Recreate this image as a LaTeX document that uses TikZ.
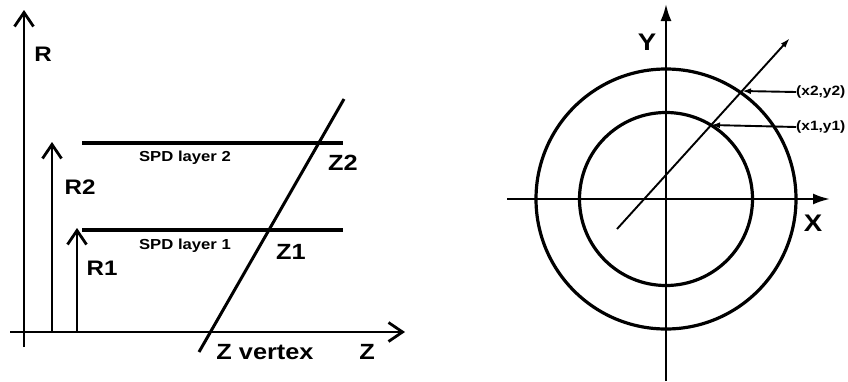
\documentclass[tikz,border=0pt]{standalone}
\usepackage{fontspec}
\setmainfont{Liberation Sans}[FakeStretch=1.15]
\usetikzlibrary{arrows.meta}
\tikzset{
  vax/.style={line width=2.8pt,-{Straight Barb[length=14pt,width=19pt]}},
  lyr/.style={line width=3.2pt},
  trk/.style={line width=3pt},
  xax/.style={line width=2.3pt,-{Latex[length=17pt,width=11pt]}},
  ring/.style={line width=3.2pt},
  ray/.style={line width=1.9pt,-{Latex[length=10pt,width=6pt]}},
  ptr/.style={line width=1.9pt,-{Latex[length=9pt,width=6pt]}},
  big/.style={font=\fontsize{21}{24}\selectfont\bfseries,inner sep=0pt},
  sml/.style={font=\fontsize{14.5}{16}\selectfont\bfseries,inner sep=0pt},
  ptlbl/.style={font=\fontsize{13.5}{15}\selectfont\bfseries,inner sep=0pt,anchor=west},
}
\begin{document}
\begin{tikzpicture}[x=1pt,y=-1pt]
  \useasboundingbox (0,0) rectangle (848,381);
  % R-Z view
  \coordinate (r0) at (24,347);  \coordinate (r1) at (24,10);
  \coordinate (z0) at (10,332);  \coordinate (z1) at (405,332);
  \coordinate (h2a) at (52,332); \coordinate (h2b) at (52,142);
  \coordinate (h1a) at (77,332); \coordinate (h1b) at (77,228);
  \coordinate (s2a) at (82,143); \coordinate (s2b) at (343,143);
  \coordinate (s1a) at (82,230); \coordinate (s1b) at (343,230);
  \coordinate (t0) at (199,352); \coordinate (t1) at (344,99);
  \draw[vax] (r0) -- (r1);
  \draw[vax] (z0) -- (z1);
  \draw[vax] (h2a) -- (h2b);
  \draw[vax] (h1a) -- (h1b);
  \draw[lyr] (s2a) -- (s2b);
  \draw[lyr] (s1a) -- (s1b);
  \draw[trk] (t0) -- (t1);
  \node[big] (rlab) at (43,54) {R};
  \node[big] (r2lab) at (80,187) {R2};
  \node[big] (r1lab) at (102,268) {R1};
  \node[sml] (spd2) at (185,158) {SPD layer 2};
  \node[sml] (spd1) at (185,246) {SPD layer 1};
  \node[big,font=\fontsize{22}{24}\selectfont\bfseries] (z2lab) at (343,163) {Z2};
  \node[big,font=\fontsize{22}{24}\selectfont\bfseries] (z1lab) at (291,252) {Z1};
  \node[big,font=\fontsize{22}{24}\selectfont\bfseries] (zvtx) at (265,352) {Z vertex};
  \node[big,font=\fontsize{22}{24}\selectfont\bfseries] (zlab) at (367,352) {Z};
  % X-Y view
  \coordinate (o) at (666,199);
  \coordinate (y0) at (666,381); \coordinate (y1) at (666,4);
  \coordinate (x0) at (507,199); \coordinate (x1) at (830,199);
  \coordinate (q0) at (617,229); \coordinate (q1) at (790,38);
  \coordinate (p1) at (711,125); \coordinate (p2) at (742,91);
  \draw[xax] (y0) -- (y1);
  \draw[xax] (x0) -- (x1);
  \draw[ring] (o) circle[radius=130pt];
  \draw[ring] (o) circle[radius=86.5pt];
  \draw[ray] (q0) -- (q1);
  \node[big,font=\fontsize{24}{26}\selectfont\bfseries] (ylab) at (647,42) {Y};
  \node[big,font=\fontsize{24}{26}\selectfont\bfseries] (xlab) at (813,223) {X};
  \node[ptlbl] (c2) at (796,92) {(x2,y2)};
  \node[ptlbl] (c1) at (796,127) {(x1,y1)};
  \draw[ptr] (c2.west) -- (p2);
  \draw[ptr] (c1.west) -- (p1);
\end{tikzpicture}
\end{document}
